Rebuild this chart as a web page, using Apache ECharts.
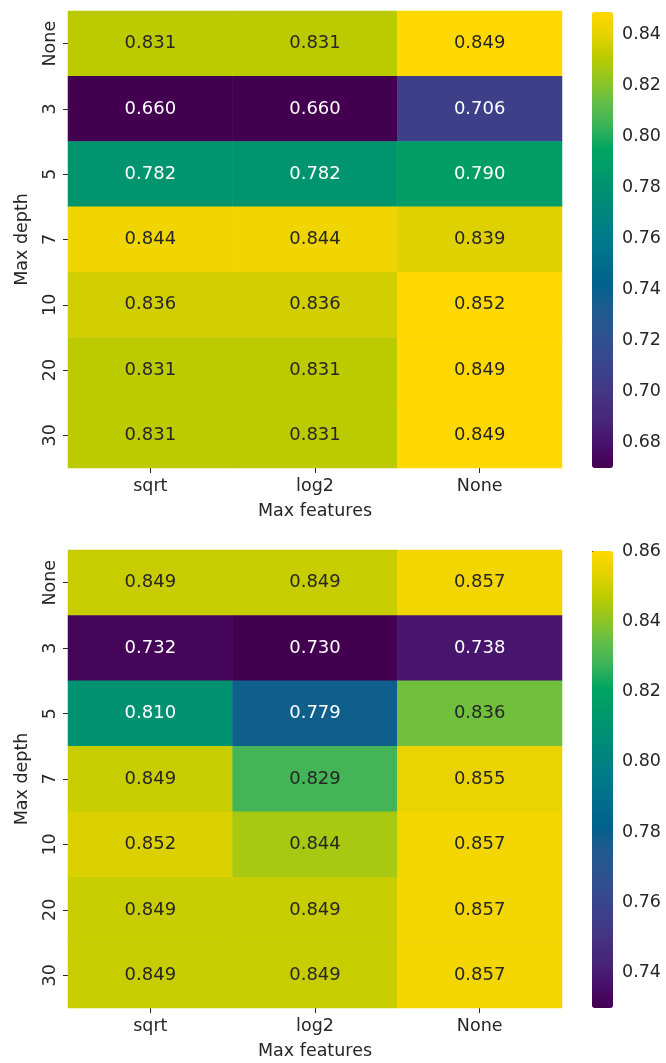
<!DOCTYPE html>
<html>
<head>
<meta charset="utf-8">
<script src="https://cdn.jsdelivr.net/npm/echarts@6/dist/echarts.min.js"></script>
<style>
  html, body { margin: 0; padding: 0; background: #fff; }
  #grafico { width: 666px; height: 1063px; }
</style>
</head>
<body>
<div id="grafico"></div>
<script>
// Categorías de los ejes
const maxFeatures = ['sqrt', 'log2', 'None'];
const maxDepth = ['None', '3', '5', '7', '10', '20', '30'];

// Valores de cada mapa (filas = max depth, columnas = max features)
const scoresArriba = [
    [0.831, 0.831, 0.849],
    [0.660, 0.660, 0.706],
    [0.782, 0.782, 0.790],
    [0.844, 0.844, 0.839],
    [0.836, 0.836, 0.852],
    [0.831, 0.831, 0.849],
    [0.831, 0.831, 0.849]
];
const scoresAbajo = [
    [0.849, 0.849, 0.857],
    [0.732, 0.730, 0.738],
    [0.810, 0.779, 0.836],
    [0.849, 0.829, 0.855],
    [0.852, 0.844, 0.857],
    [0.849, 0.849, 0.857],
    [0.849, 0.849, 0.857]
];

// Rango de las barras de color y sus marcas
const rangoArriba = [0.670, 0.849];
const rangoAbajo = [0.730, 0.860];
const ticksArriba = [0.68, 0.70, 0.72, 0.74, 0.76, 0.78, 0.80, 0.82, 0.84];
const ticksAbajo = [0.74, 0.76, 0.78, 0.80, 0.82, 0.84, 0.86];

// Paleta tipo viridis
const viridis = ['#440050', '#47106a', '#482576', '#45327f', '#3d3f89', '#354a8d', '#2c548f',
                 '#1f5b8e', '#00628b', '#006e8b', '#00798a', '#00847f', '#008f74', '#009a6a',
                 '#00a562', '#3ab35a', '#62bd48', '#90c524', '#bccb00', '#e4d200', '#ffd800'];

const fuente = 'DejaVu Sans';
const colorTexto = '#262626';
const tam = 17.5;

function armarDatos(matriz, rango) {
    let datos = [];
    matriz.forEach((fila, i) => {
        fila.forEach((v, j) => {
            let t = (v - rango[0]) / (rango[1] - rango[0]);
            datos.push({
                value: [j, i, v],
                label: { color: t < 0.72 ? '#ffffff' : colorTexto }
            });
        });
    });
    return datos;
}

// Posición de cada panel
const paneles = [
    { top: 11, height: 457, rango: rangoArriba, ticks: ticksArriba, datos: scoresArriba },
    { top: 550, height: 458, rango: rangoAbajo, ticks: ticksAbajo, datos: scoresAbajo }
];

let grids = [], xAxes = [], yAxes = [], series = [], visualMaps = [];

paneles.forEach((p, k) => {
    // mapa de calor
    grids.push({ left: 68, top: p.top, width: 494, height: p.height });
    xAxes.push({
        type: 'category', gridIndex: grids.length - 1, data: maxFeatures,
        name: 'Max features', nameLocation: 'middle', nameGap: 34,
        nameTextStyle: { fontFamily: fuente, fontSize: tam, color: colorTexto },
        axisLine: { show: false },
        axisTick: { show: true, alignWithLabel: true, length: 5, lineStyle: { color: colorTexto } },
        axisLabel: { fontFamily: fuente, fontSize: tam, color: colorTexto, margin: 9 },
        splitLine: { show: false }
    });
    yAxes.push({
        type: 'category', gridIndex: grids.length - 1, data: maxDepth, inverse: true,
        name: 'Max depth', nameLocation: 'middle', nameGap: 37, nameRotate: 90,
        nameTextStyle: { fontFamily: fuente, fontSize: tam, color: colorTexto },
        axisLine: { show: false },
        axisTick: { show: true, alignWithLabel: true, length: 5, lineStyle: { color: colorTexto } },
        axisLabel: { fontFamily: fuente, fontSize: tam, color: colorTexto, rotate: 90, margin: 9 },
        splitLine: { show: false }
    });
    series.push({
        type: 'heatmap',
        xAxisIndex: xAxes.length - 1, yAxisIndex: yAxes.length - 1,
        data: armarDatos(p.datos, p.rango),
        label: {
            show: true, fontFamily: fuente, fontSize: 18,
            formatter: d => d.value[2].toFixed(3)
        },
        emphasis: { disabled: true }
    });
    visualMaps.push({
        type: 'continuous', seriesIndex: series.length - 1, dimension: 2,
        min: p.rango[0], max: p.rango[1], calculable: false,
        left: 592, top: p.top + 1, itemWidth: 21, itemHeight: p.height - 1,
        padding: 0, text: null, showLabel: false,
        inRange: { color: viridis }
    });

    // eje de la barra de color
    grids.push({ left: 592, top: p.top + 1, width: 21, height: p.height - 1 });
    xAxes.push({ type: 'value', gridIndex: grids.length - 1, show: false });
    yAxes.push({
        type: 'value', gridIndex: grids.length - 1, position: 'right',
        min: p.rango[0], max: p.rango[1],
        axisLine: { show: false },
        splitLine: { show: false },
        axisTick: { show: true, length: 5, customValues: p.ticks, lineStyle: { color: colorTexto } },
        axisLabel: {
            fontFamily: fuente, fontSize: tam, color: colorTexto, margin: 9,
            customValues: p.ticks, formatter: v => v.toFixed(2)
        }
    });
});

// series vacías para que se dibujen los ejes de las barras de color
series.push({ type: 'scatter', xAxisIndex: 1, yAxisIndex: 1, data: [] });
series.push({ type: 'scatter', xAxisIndex: 3, yAxisIndex: 3, data: [] });

let grafico = echarts.init(document.getElementById('grafico'), null, { renderer: 'canvas' });
grafico.setOption({
    animation: false,
    backgroundColor: '#ffffff',
    grid: grids,
    xAxis: xAxes,
    yAxis: yAxes,
    visualMap: visualMaps,
    series: series
});
</script>
</body>
</html>
